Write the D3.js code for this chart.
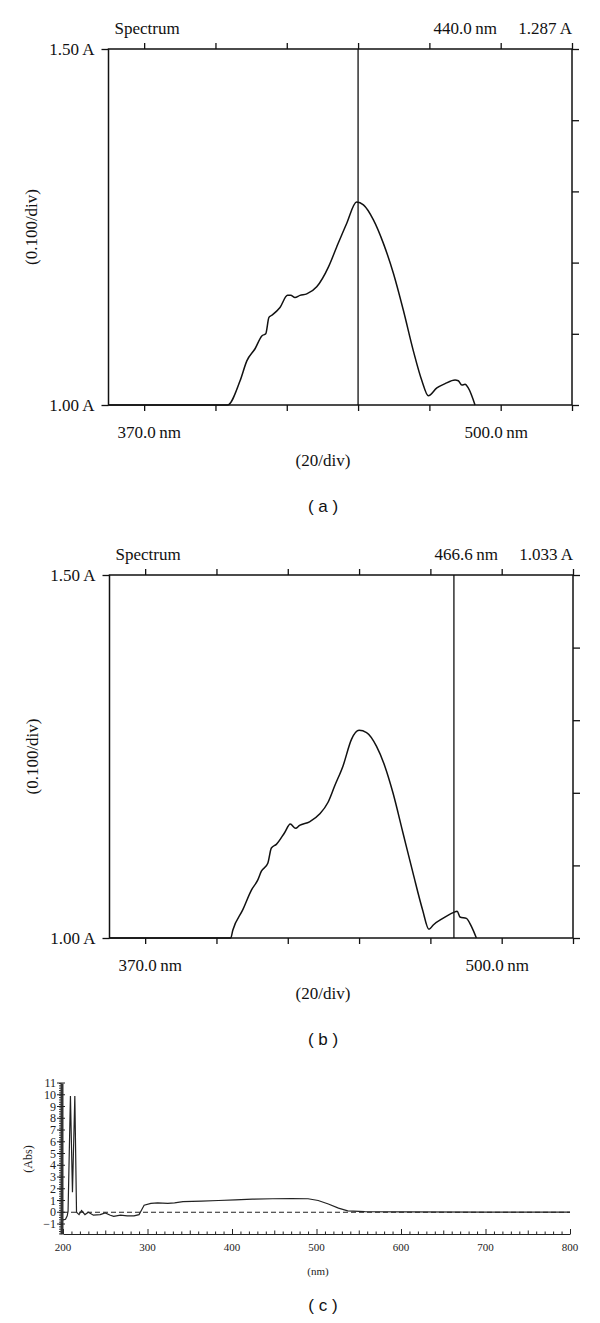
<!DOCTYPE html>
<html>
<head>
<meta charset="utf-8">
<script src="https://cdn.jsdelivr.net/npm/d3@7"></script>
<style>
	body { margin: 0; background: #fff; }
</style>
</head>
<body>
<div id="chart"></div>
<script>
// spectrum (a), cursor at 440.0 nm
var specA_nm = [370, 403.4, 406.9, 408.8, 411.1, 413.0, 414.1, 415.0, 415.8, 418.1, 420.2, 421.1, 422.3, 423.7, 425.6, 428.4, 431.7, 434.0, 436.8, 439.6, 441.5, 444.3, 447.1, 449.9, 452.7, 455.5, 457.9, 459.7, 462.1, 464.4, 467.2, 468.1, 469.1, 470.0, 470.9, 472.8];
var specA_abs = [1.0, 1.0, 1.034, 1.062, 1.079, 1.097, 1.100, 1.123, 1.126, 1.137, 1.154, 1.154, 1.151, 1.154, 1.156, 1.166, 1.194, 1.222, 1.255, 1.285, 1.281, 1.260, 1.227, 1.185, 1.133, 1.076, 1.034, 1.013, 1.024, 1.030, 1.035, 1.034, 1.028, 1.029, 1.024, 1.0];

// spectrum (b), cursor at 466.6 nm
var specB_nm = [370, 404.0, 404.6, 407.4, 409.8, 411.6, 412.6, 414.4, 415.4, 416.8, 419.1, 420.7, 422.2, 423.3, 426.1, 429.0, 431.3, 433.2, 435.5, 437.9, 440.0, 442.1, 444.9, 447.2, 449.5, 452.3, 455.1, 457.8, 459.6, 460.8, 463.5, 466.4, 467.5, 468.3, 470.1, 471.5, 472.9];
var specB_abs = [1.0, 1.0, 1.011, 1.039, 1.066, 1.080, 1.092, 1.103, 1.124, 1.129, 1.145, 1.157, 1.151, 1.155, 1.160, 1.171, 1.187, 1.210, 1.237, 1.274, 1.286, 1.283, 1.264, 1.237, 1.200, 1.145, 1.090, 1.039, 1.012, 1.018, 1.027, 1.035, 1.037, 1.029, 1.027, 1.016, 1.0];

// full scan (c)
var scan_nm = [200, 203, 205, 206, 208.8, 211.2, 214, 216, 219, 222, 226, 230, 236, 244, 250, 256, 260, 268, 276, 284, 290, 293, 296, 304, 312, 324, 332, 342, 364, 384, 404, 424, 448, 470, 490, 502, 514, 526, 537, 557, 600, 700, 800];
var scan_abs = [-0.65, -0.6, -0.3, 0.1, 9.9, 1.7, 9.9, 0, -0.2, 0.15, -0.2, 0, -0.25, -0.2, -0.05, -0.25, -0.35, -0.25, -0.3, -0.3, -0.2, 0.2, 0.6, 0.75, 0.8, 0.75, 0.8, 0.9, 0.95, 1.0, 1.05, 1.12, 1.15, 1.17, 1.15, 1.0, 0.7, 0.35, 0.12, 0.05, 0.03, 0.02, 0.02];

var specTicksX = [380, 400, 420, 440, 460, 480, 500];
var specTicksY = [1.0, 1.1, 1.2, 1.3, 1.4, 1.5];
var scanTicksX = [200, 300, 400, 500, 600, 700, 800];
var scanTicksY = [-1, 0, 1, 2, 3, 4, 5, 6, 7, 8, 9, 10, 11];

var SERIF = "'Liberation Serif', 'DejaVu Serif', serif";
var SANS = "'Liberation Sans', 'DejaVu Sans', sans-serif";

var svg = d3.select("#chart").append("svg")
	.attr("width", 600)
	.attr("height", 1323)
	.style("background", "#fff");

var drawSpectrum = function(_nm, _abs, _cursor, _value, _box, _tag)	{
	var x = d3.scaleLinear().domain([370, 500]).range([_box.left, _box.right]);
	var y = d3.scaleLinear().domain([1.0, 1.5]).range([_box.bottom, _box.top]);
	var g = svg.append("g");

	var styleAxis = function(_a)	{
		_a.select(".domain").remove();
		_a.selectAll("line").attr("stroke", "#111").attr("stroke-width", 1.3);
		_a.selectAll("text").remove();
	}

	g.append("g").attr("transform", "translate(0," + _box.top + ")")
		.call(d3.axisTop(x).tickValues(specTicksX).tickSize(6)).call(styleAxis);
	g.append("g").attr("transform", "translate(0," + _box.bottom + ")")
		.call(d3.axisBottom(x).tickValues(specTicksX).tickSize(6)).call(styleAxis);
	g.append("g").attr("transform", "translate(" + _box.right + ",0)")
		.call(d3.axisRight(y).tickValues(specTicksY).tickSize(7)).call(styleAxis);
	g.append("g").attr("transform", "translate(" + _box.left + ",0)")
		.call(d3.axisLeft(y).tickValues([1.0, 1.5]).tickSize(7)).call(styleAxis);

	g.append("rect")
		.attr("x", _box.left).attr("y", _box.top)
		.attr("width", _box.right - _box.left).attr("height", _box.bottom - _box.top)
		.attr("fill", "none").attr("stroke", "#111").attr("stroke-width", 1.5);

	var line = d3.line()
		.x(function(_d, i) { return x(_nm[i]); })
		.y(function(_d) { return y(_d); })
		.curve(d3.curveMonotoneX);

	g.append("path")
		.datum(_abs)
		.attr("d", line)
		.attr("fill", "none").attr("stroke", "#111").attr("stroke-width", 1.5);

	g.append("line")
		.attr("x1", x(_cursor)).attr("x2", x(_cursor))
		.attr("y1", _box.top).attr("y2", _box.bottom)
		.attr("stroke", "#111").attr("stroke-width", 1.3);

	var t = function(_x, _y, _s, _anchor)	{
		return g.append("text")
			.attr("x", _x).attr("y", _y)
			.attr("text-anchor", _anchor)
			.style("font-family", SERIF)
			.style("font-size", "17px")
			.style("fill", "#111")
			.text(_s);
	}
	t(_box.left + 6, _box.top - 15, "Spectrum", "start");
	t(_box.right - 75, _box.top - 15, _cursor.toFixed(1) + "\u2009nm", "end");
	t(_box.right, _box.top - 15, _value.toFixed(3) + " A", "end");
	t(_box.left - 14, _box.top + 6, "1.50 A", "end");
	t(_box.left - 14, _box.bottom + 6, "1.00 A", "end");
	t(_box.left + 9, _box.bottom + 33, "370.0\u2009nm", "start");
	t(_box.left + 356, _box.bottom + 33, "500.0\u2009nm", "start");
	t(323, _box.bottom + 61, "(20/div)", "middle");
	t(0, 0, "(0.100/div)", "middle")
		.attr("transform", "translate(" + (_box.left - 72) + "," + ((_box.top + _box.bottom) / 2) + ") rotate(-90)");

	g.append("text")
		.attr("x", 323).attr("y", _box.bottom + 107)
		.attr("text-anchor", "middle")
		.style("font-family", SANS)
		.style("font-size", "17px")
		.style("fill", "#111")
		.text("( " + _tag + " )");
}

drawSpectrum(specA_nm, specA_abs, 440.0, 1.287, {left: 108.5, right: 572, top: 49, bottom: 405}, "a");
drawSpectrum(specB_nm, specB_abs, 466.6, 1.033, {left: 109.5, right: 573, top: 575, bottom: 938}, "b");

// panel (c)
var drawScan = function()	{
	var x = d3.scaleLinear().domain([200, 800]).range([63, 570]);
	var y = d3.scaleLinear().domain([-1.85, 11]).range([1234, 1083]);
	var g = svg.append("g");

	var xAxis = g.append("g").attr("transform", "translate(0,1234)")
		.call(d3.axisBottom(x).tickValues(d3.range(200, 801, 10)).tickSizeInner(0).tickSizeOuter(0).tickFormat(""));
	xAxis.select(".domain").attr("stroke", "#222").attr("stroke-width", 1.2);
	xAxis.selectAll(".tick line")
		.attr("stroke", "#222")
		.attr("y2", function(_d) { return _d % 100 === 0 ? -5 : (_d % 50 === 0 ? -3.5 : -2.5); });

	g.selectAll(".xlab").data(scanTicksX).enter().append("text")
		.attr("x", function(_d) { return x(_d); })
		.attr("y", 1251)
		.attr("text-anchor", "middle")
		.style("font-family", SERIF)
		.style("font-size", "11px")
		.style("fill", "#222")
		.text(function(_d) { return _d; });

	var yAxis = g.append("g").attr("transform", "translate(61.5,0)")
		.call(d3.axisLeft(y).tickValues(d3.range(-1.8, 11.01, 0.2)).tickSizeInner(2.5).tickSizeOuter(0).tickFormat(""));
	yAxis.select(".domain").attr("stroke", "#333").attr("stroke-width", 3);
	yAxis.selectAll(".tick line").attr("stroke", "#333");

	g.selectAll(".ytick").data(scanTicksY).enter().append("line")
		.attr("x1", 57).attr("x2", 65)
		.attr("y1", function(_d) { return y(_d); })
		.attr("y2", function(_d) { return y(_d); })
		.attr("stroke", "#222").attr("stroke-width", 1);

	g.selectAll(".ylab").data(scanTicksY).enter().append("text")
		.attr("x", 56)
		.attr("y", function(_d) { return y(_d) + 4; })
		.attr("text-anchor", "end")
		.style("font-family", SERIF)
		.style("font-size", "12px")
		.style("fill", "#222")
		.text(function(_d) { return _d < 0 ? "\u2212" + Math.abs(_d) : _d; });

	g.append("text")
		.attr("transform", "translate(32,1159) rotate(-90)")
		.attr("text-anchor", "middle")
		.style("font-family", SERIF)
		.style("font-size", "12px")
		.style("fill", "#222")
		.text("(Abs)");

	g.append("text")
		.attr("x", 318).attr("y", 1275)
		.attr("text-anchor", "middle")
		.style("font-family", SERIF)
		.style("font-size", "11px")
		.style("fill", "#222")
		.text("(nm)");

	g.append("line")
		.attr("x1", x(200)).attr("x2", x(800))
		.attr("y1", y(0)).attr("y2", y(0))
		.attr("stroke", "#222").attr("stroke-width", 1)
		.attr("stroke-dasharray", "5,3");

	var line = d3.line()
		.x(function(_d, i) { return x(scan_nm[i]); })
		.y(function(_d) { return y(_d); });

	g.append("path")
		.datum(scan_abs)
		.attr("d", line)
		.attr("fill", "none").attr("stroke", "#222").attr("stroke-width", 1.2);

	g.append("text")
		.attr("x", 323).attr("y", 1311)
		.attr("text-anchor", "middle")
		.style("font-family", SANS)
		.style("font-size", "17px")
		.style("fill", "#111")
		.text("( c )");
}

drawScan();
</script>
</body>
</html>
